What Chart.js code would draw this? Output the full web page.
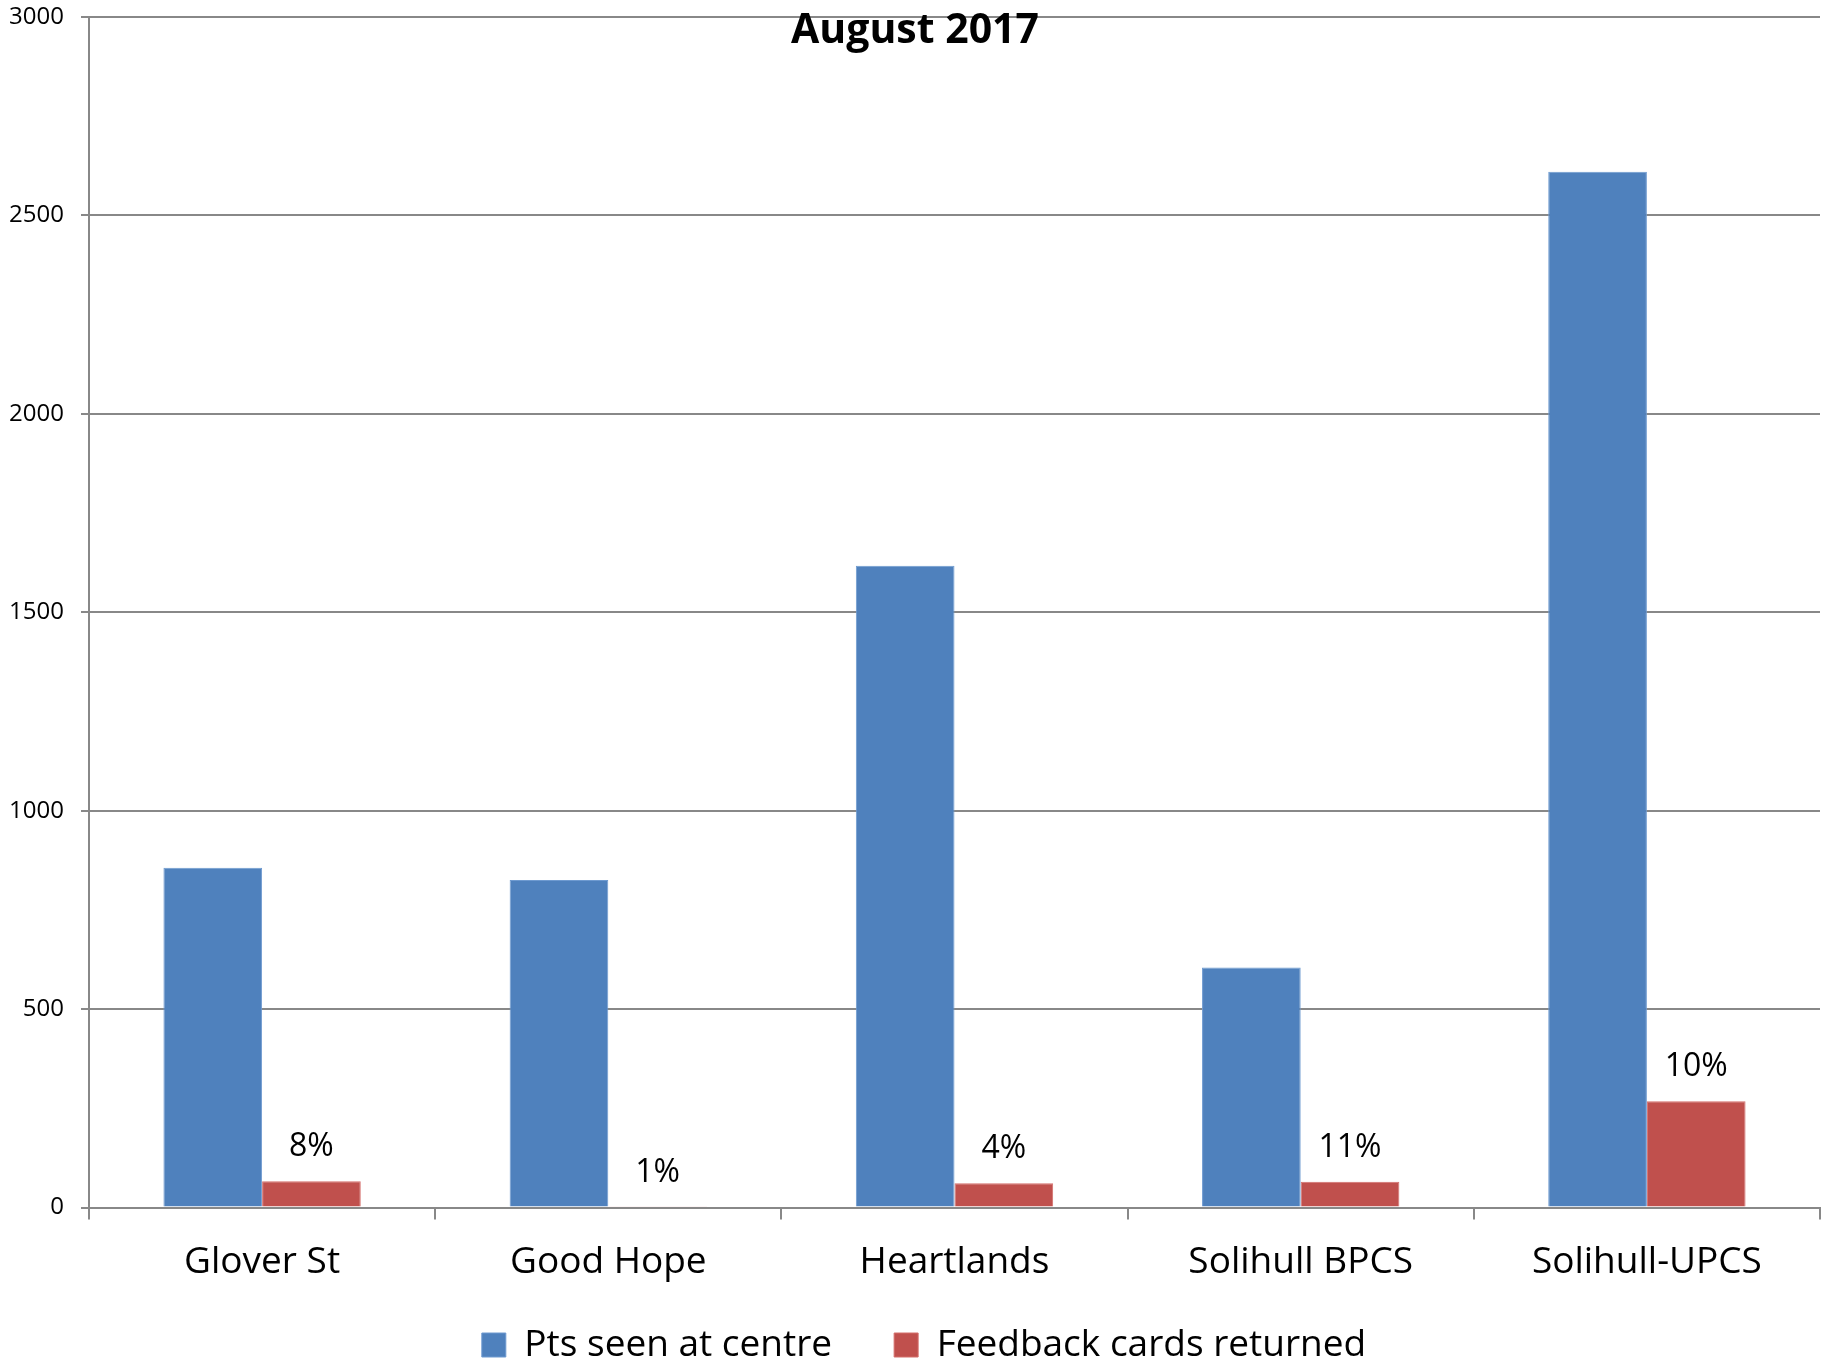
<!DOCTYPE html>
<html>
<head>
<meta charset="utf-8">
<script src="https://cdn.jsdelivr.net/npm/chart.js@4.4.0/dist/chart.umd.min.js"></script>
<style>
  html, body { margin: 0; padding: 0; background: #fff; overflow: hidden; }
  #wrap { position: relative; width: 1823px; height: 1363px; }
</style>
</head>
<body>
<div id="wrap"><canvas id="feedbackChart"></canvas></div>
<script>
// Dados do gráfico
const centres = ['Glover St', 'Good Hope', 'Heartlands', 'Solihull BPCS', 'Solihull-UPCS'];
const ptsSeen = [856, 825, 1617, 605, 2610];
const cardsReturned = [66, 2, 61, 65, 268];
const returnRates = ['8%', '1%', '4%', '11%', '10%'];
const yTicks = [0, 500, 1000, 1500, 2000, 2500, 3000];

const FONT = "'Open Sans', 'DejaVu Sans', sans-serif";
const GRID = '#888888';

// Título desenhado por cima da área do gráfico (como no original)
const titlePlugin = {
    id: 'overTitle',
    afterLayout(chart) {
        // deixa os rótulos do eixo x e a legenda sair das suas caixas
        chart.scales.x.bottom += 30;
        const lg = chart.legend;
        lg.bottom += 30;
        lg.height += 30;
        lg.left += 14;
        lg.right += 14;
    },
    afterDraw(chart) {
        const ctx = chart.ctx;
        ctx.save();
        ctx.font = "bold 41px " + FONT;
        ctx.fillStyle = '#000';
        ctx.textAlign = 'center';
        ctx.textBaseline = 'middle';
        ctx.fillText('August 2017', 915, 31);
        ctx.restore();
    }
};

// Rótulos de percentagem por cima das barras vermelhas
const rateLabels = {
    id: 'rateLabels',
    afterDatasetsDraw(chart) {
        const ctx = chart.ctx;
        const meta = chart.getDatasetMeta(1);
        ctx.save();
        ctx.font = "32px " + FONT;
        ctx.fillStyle = '#000';
        ctx.textAlign = 'center';
        ctx.textBaseline = 'middle';
        meta.data.forEach((bar, i) => {
            ctx.fillText(returnRates[i], bar.x, bar.y - 34);
        });
        ctx.restore();
    }
};

const ctx = document.getElementById('feedbackChart').getContext('2d');
new Chart(ctx, {
    type: 'bar',
    data: {
        labels: centres,
        datasets: [
            {
                label: 'Pts seen at centre',
                data: ptsSeen,
                backgroundColor: '#4F81BD',
                borderColor: '#6E9AD0',
                borderWidth: 1,
                categoryPercentage: 0.57,
                barPercentage: 1.0
            },
            {
                label: 'Feedback cards returned',
                data: cardsReturned,
                backgroundColor: '#C0504D',
                borderColor: '#D46E6B',
                borderWidth: 1,
                categoryPercentage: 0.57,
                barPercentage: 1.0
            }
        ]
    },
    options: {
        responsive: true,
        maintainAspectRatio: false,
        animation: false,
        layout: { padding: { top: 17, right: 3, bottom: 9.5, left: 0 } },
        plugins: {
            title: { display: false },
            tooltip: { enabled: false },
            legend: {
                position: 'bottom',
                maxHeight: 89,
                labels: {
                    font: { family: FONT, size: 37 },
                    color: '#000',
                    boxWidth: 24,
                    boxHeight: 24,
                    padding: 62
                }
            }
        },
        scales: {
            x: {
                afterFit: s => { s.height = 57; },
                grid: {
                    offset: true,
                    drawOnChartArea: false,
                    tickLength: 12,
                    color: GRID,
                    lineWidth: 2
                },
                border: { color: GRID, width: 2 },
                ticks: {
                    font: { family: FONT, size: 37 },
                    color: '#000',
                    padding: 21
                }
            },
            y: {
                min: 0,
                max: 3000,
                afterFit: s => { s.width = 89; s.paddingTop = 0; s.paddingBottom = 0; },
                afterBuildTicks: s => { s.ticks = yTicks.map(v => ({ value: v })); },
                grid: {
                    color: GRID,
                    lineWidth: 2,
                    tickLength: 8
                },
                border: { color: GRID, width: 2 },
                ticks: {
                    font: { family: FONT, size: 24 },
                    color: '#000',
                    padding: 17,
                    callback: v => String(v)
                }
            }
        }
    },
    plugins: [titlePlugin, rateLabels]
});
</script>
</body>
</html>
